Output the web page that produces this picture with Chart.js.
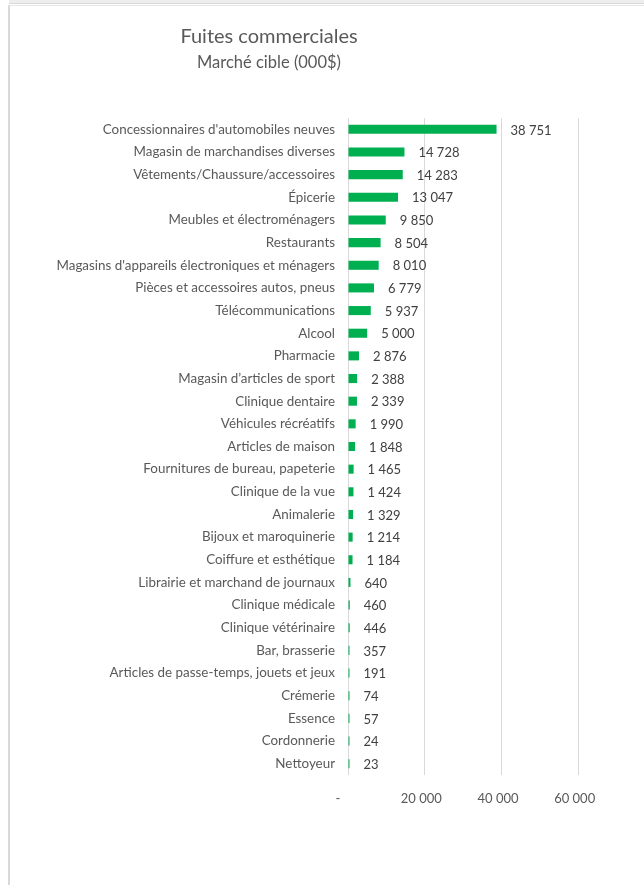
<!DOCTYPE html>
<html lang="fr">
<head>
<meta charset="utf-8">
<title>Fuites commerciales</title>
<script src="https://cdn.jsdelivr.net/npm/chart.js@4"></script>
<style>
  html, body { margin: 0; padding: 0; background: #fff; overflow: hidden; }
  #bande { position: absolute; left: 9px; top: 0; width: 700px; height: 3px; background: #eeeeee; border-bottom: 1px solid #d9d9d9; }
  #cadre { position: absolute; left: 8px; top: 5px; width: 700px; height: 900px; border-left: 2px solid #d9d9d9; border-top: 1px solid #e6e6e6; }
  #graphique { position: absolute; left: 0; top: 0; }
  .titre { position: absolute; left: 0; width: 538px; text-align: center; color: #595959; font-family: Lato, "Open Sans", sans-serif; }
  #titre1 { top: 23px; font-size: 20px; }
  #titre2 { top: 52px; font-size: 16.5px; }
</style>
</head>
<body>
<div id="bande"></div>
<div id="cadre"></div>
<canvas id="graphique" width="644" height="885"></canvas>
<div class="titre" id="titre1">Fuites commerciales</div>
<div class="titre" id="titre2">Marché cible (000$)</div>

<script>
// Catégories de commerces et marché cible (en milliers de $)
const categories = [
  "Concessionnaires d'automobiles neuves",
  "Magasin de marchandises diverses",
  "Vêtements/Chaussure/accessoires",
  "Épicerie",
  "Meubles et électroménagers",
  "Restaurants",
  "Magasins d'appareils électroniques et ménagers",
  "Pièces et accessoires autos, pneus",
  "Télécommunications",
  "Alcool",
  "Pharmacie",
  "Magasin d’articles de sport",
  "Clinique dentaire",
  "Véhicules récréatifs",
  "Articles de maison",
  "Fournitures de bureau, papeterie",
  "Clinique de la vue",
  "Animalerie",
  "Bijoux et maroquinerie",
  "Coiffure et esthétique",
  "Librairie et marchand de journaux",
  "Clinique médicale",
  "Clinique vétérinaire",
  "Bar, brasserie",
  "Articles de passe-temps, jouets et jeux",
  "Crémerie",
  "Essence",
  "Cordonnerie",
  "Nettoyeur"
];
const marcheCible = [
  38751, 14728, 14283, 13047, 9850, 8504, 8010, 6779, 5937, 5000,
  2876, 2388, 2339, 1990, 1848, 1465, 1424, 1329, 1214, 1184,
  640, 460, 446, 357, 191, 74, 57, 24, 23
];
const ticksX = [0, 20000, 40000, 60000];

const police = "Lato, 'Open Sans', sans-serif";

function formater(n) {
  return String(n).replace(/\B(?=(\d{3})+(?!\d))/g, " ");
}

// Étiquettes de valeur au bout des barres
const etiquettes = {
  id: "etiquettes",
  afterDatasetsDraw(chart) {
    const ctx = chart.ctx;
    const meta = chart.getDatasetMeta(0);
    ctx.save();
    ctx.font = "13px " + police;
    ctx.fillStyle = "#404040";
    ctx.textAlign = "left";
    ctx.textBaseline = "middle";
    meta.data.forEach((barre, i) => {
      ctx.fillText(formater(marcheCible[i]), barre.x + 14, barre.y + 1);
    });
    ctx.restore();
  }
};

new Chart(document.getElementById("graphique"), {
  type: "bar",
  data: {
    labels: categories,
    datasets: [{
      data: marcheCible,
      backgroundColor: "#00b050",
      barPercentage: 0.4,
      categoryPercentage: 1,
      minBarLength: 1.5
    }]
  },
  plugins: [etiquettes],
  options: {
    indexAxis: "y",
    responsive: false,
    animation: false,
    layout: { padding: { top: 118, right: 66, bottom: 0, left: 0 } },
    plugins: {
      legend: { display: false },
      tooltip: { enabled: false },
      title: { display: false }
    },
    scales: {
      x: {
        min: 0,
        max: 60000,
        afterBuildTicks: (axe) => { axe.ticks = ticksX.map(v => ({ value: v })); },
        afterFit: (axe) => { axe.height = 110; },
        border: { display: false },
        grid: { color: "#d9d9d9", drawTicks: false },
        ticks: {
          padding: 16,
          color: "#595959",
          font: { family: police, size: 13 },
          callback: (v) => v === 0 ? "-      " : formater(v) + "  "
        }
      },
      y: {
        afterFit: (axe) => { axe.width = 348; },
        border: { display: false },
        grid: { display: false, drawTicks: false },
        ticks: {
          padding: 13,
          autoSkip: false,
          color: "#595959",
          font: { family: police, size: 13.4 }
        }
      }
    }
  }
});
</script>
</body>
</html>
